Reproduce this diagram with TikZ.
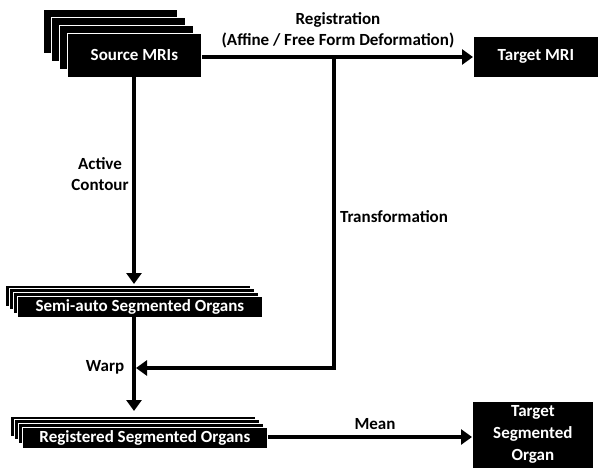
\documentclass[tikz,border=0pt]{standalone}
\usepackage{fontspec}
\setmainfont{Carlito}
\usetikzlibrary{arrows.meta}
\tikzset{
  blk/.style={fill=black, draw=white, line width=0.8pt, text=white, font=\bfseries\fontsize{17}{19}\selectfont, inner sep=0pt},
  lbl/.style={font=\bfseries\fontsize{17}{21}\selectfont, text=black, align=center},
  conn/.style={line width=4pt, -{Triangle[width=15pt,length=11pt]}},
  plain/.style={line width=4pt}
}
\begin{document}
\begin{tikzpicture}[x=1pt,y=1pt]
\useasboundingbox (0,0) rectangle (599,-469);
% Source MRIs stack
\foreach \d in {24,16,8} {
  \path[blk] (67-\d,-33+\d) rectangle (201-\d,-77+\d);
}
\node[blk, minimum width=134pt, minimum height=44pt, anchor=north west] (src) at (67,-33) {Source MRIs};
% Target MRI
\node[blk, minimum width=125pt, minimum height=41pt, anchor=north west] (tmri) at (473,-36) {Target MRI};
% Semi-auto stack
\foreach \d in {12,8,4} {
  \path[blk] (17-\d,-296+0.92*\d) rectangle (262-\d,-317+0.92*\d);
}
\node[blk, minimum width=245pt, minimum height=21pt, anchor=north west] (semi) at (17,-296) {Semi-auto Segmented Organs};
% Registered stack
\foreach \d in {12,8,4} {
  \path[blk] (22-\d,-427+0.92*\d) rectangle (267-\d,-447+0.92*\d);
}
\node[blk, minimum width=245pt, minimum height=21pt, anchor=north west] (reg) at (22,-427) {Registered Segmented Organs};
% Target Segmented Organ
\node[blk, font=\bfseries\fontsize{17}{22}\selectfont, minimum width=121pt, minimum height=67pt, anchor=north west, align=center] (tso) at (472,-401) {Target\\Segmented\\Organ};

% connectors
\coordinate (jn) at (334,-57);
\coordinate (wp) at (334,-368);
\draw[conn] (src.east |- 0,-57) -- (tmri.west |- 0,-57);
\draw[plain] (jn) -- (wp);
\draw[conn] ([xshift=2pt]wp) -- (136,-368);
\draw[conn] (134,-77) -- (134,-284);
\draw[conn] (134,-317) -- (134,-411);
\draw[conn] (reg.east |- 0,-437) -- (tso.west |- 0,-437);

% labels
\node[lbl] (l1) at (338,-20) {Registration};
\node[lbl] (l2) at (338,-40) {(Affine / Free Form Deformation)};
\node[lbl] (l3) at (100,-174) {Active\\Contour};
\node[lbl] (l4) at (394,-217) {Transformation};
\node[lbl] (l5) at (105,-367) {Warp};
\node[lbl] (l6) at (375,-424) {Mean};
\end{tikzpicture}
\end{document}
